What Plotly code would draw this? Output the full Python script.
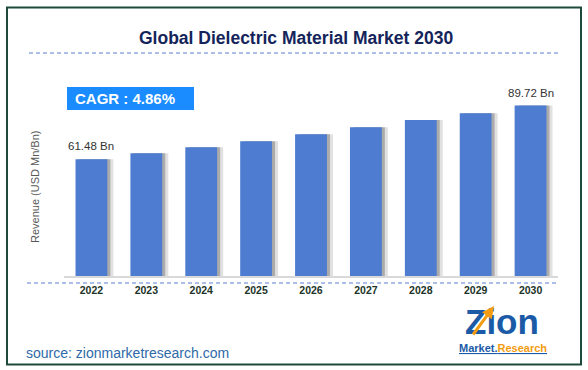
import plotly.graph_objects as go

# ---- data ----
years = ["2022", "2023", "2024", "2025", "2026", "2027", "2028", "2029", "2030"]
revenue = [61.48, 64.6, 67.7, 70.9, 74.6, 78.3, 82.1, 85.6, 89.72]
bar_labels = ["61.48 Bn", "", "", "", "", "", "", "", "89.72 Bn"]
chart_title = "Global Dielectric Material Market 2030"
cagr_text = "CAGR : 4.86%"
y_title = "Revenue (USD Mn/Bn)"
source_text = "source: zionmarketresearch.com"

# ---- layout geometry ----
W, H = 588, 370
L, R, T, B = 64, 30, 90, 94
PW, PH = W - L - R, H - T - B
PX_PER_UNIT = 1.9


def px(x):
    return (x - L) / PW


def py(y):
    return (H - B - y) / PH


FONT = "Liberation Sans, Arial, sans-serif"
BAR_W = 0.58
pos = list(range(len(years)))

fig = go.Figure()
# soft shadows to the right of each bar
fig.add_trace(go.Bar(x=pos, y=revenue, width=BAR_W, offset=-BAR_W / 2 + 0.11,
                     marker=dict(color="rgba(120,120,120,0.22)", line=dict(width=0)),
                     hoverinfo="skip", showlegend=False))
fig.add_trace(go.Bar(x=pos, y=revenue, width=BAR_W, offset=-BAR_W / 2 + 0.055,
                     marker=dict(color="rgba(90,90,90,0.40)", line=dict(width=0)),
                     hoverinfo="skip", showlegend=False))
# main bars
fig.add_trace(go.Bar(x=pos, y=revenue, width=BAR_W, offset=-BAR_W / 2,
                     marker=dict(color="#4d7cd1", line=dict(width=0)),
                     showlegend=False))

annotations = []
for i, (v, lab) in enumerate(zip(revenue, bar_labels)):
    if lab:
        annotations.append(dict(x=i, y=v, xref="x", yref="y", text=lab, showarrow=False,
                                yanchor="bottom", yshift=5,
                                font=dict(family=FONT, size=11.5, color="#333333")))

annotations += [
    dict(x=px(296), y=py(38), xref="paper", yref="paper", text="<b>" + chart_title + "</b>",
         showarrow=False, xanchor="center", yanchor="middle",
         font=dict(family=FONT, size=17.5, color="#14245a")),
    dict(x=px(73), y=py(98.5), xref="paper", yref="paper", text="<b>" + cagr_text + "</b>",
         showarrow=False, xanchor="left", yanchor="middle",
         font=dict(family=FONT, size=15, color="#ffffff")),
    dict(x=px(35), y=py(187), xref="paper", yref="paper", text=y_title, textangle=-90,
         showarrow=False, xanchor="center", yanchor="middle",
         font=dict(family=FONT, size=11, color="#595959")),
    dict(x=px(24), y=py(352.5), xref="paper", yref="paper", text=source_text,
         showarrow=False, xanchor="left", yanchor="middle",
         font=dict(family=FONT, size=14, color="#2e6aa8")),
    # logo
    dict(x=px(502), y=py(321), xref="paper", yref="paper", text="<b>Zion</b>",
         showarrow=False, xanchor="center", yanchor="middle",
         font=dict(family=FONT, size=35, color="#1b5aa6")),
    dict(x=px(494), y=py(306), xref="paper", yref="paper", text="", showarrow=True,
         ax=-22, ay=30, arrowhead=2, arrowsize=0.8, arrowwidth=3, arrowcolor="#f39c12"),
    dict(x=px(503), y=py(348), xref="paper", yref="paper",
         text="<b><u><span style='color:#1b5aa6'>Market.</span>"
              "<span style='color:#f39c12'>Research</span></u></b>",
         showarrow=False, xanchor="center", yanchor="middle",
         font=dict(family=FONT, size=11, color="#1b5aa6")),
]

shapes = [
    dict(type="rect", xref="paper", yref="paper", x0=px(7), x1=px(581), y0=py(364.5), y1=py(7.5),
         line=dict(color="#1d4a3a", width=2), fillcolor="rgba(0,0,0,0)", layer="above"),
    dict(type="line", xref="paper", yref="paper", x0=px(29), x1=px(560), y0=py(53), y1=py(53),
         line=dict(color="#5b7fcf", width=1, dash="4px,3px")),
    dict(type="line", xref="paper", yref="paper", x0=px(27), x1=px(557), y0=py(283), y1=py(283),
         line=dict(color="#5b7fcf", width=1, dash="4px,3px")),
    dict(type="rect", xref="paper", yref="paper", x0=px(67), x1=px(194), y0=py(110), y1=py(87),
         line=dict(width=0), fillcolor="#1a8cff", layer="below"),
]

fig.update_layout(
    width=W, height=H,
    margin=dict(l=L, r=R, t=T, b=B, pad=0),
    paper_bgcolor="#ffffff", plot_bgcolor="#ffffff",
    barmode="overlay",
    showlegend=False,
    annotations=annotations,
    shapes=shapes,
    xaxis=dict(range=[-0.5, len(years) - 0.5], showline=True, linecolor="#d9d9d9", linewidth=1.5,
               showgrid=False, zeroline=False, ticks="", ticklabelstandoff=4,
               tickfont=dict(family=FONT, size=10.5, color="#1c3328"),
               tickvals=pos, ticktext=["<b>" + y + "</b>" for y in years],
               fixedrange=True),
    yaxis=dict(visible=False, range=[0, PH / PX_PER_UNIT], fixedrange=True),
    font=dict(family=FONT),
)

fig.write_html("out.html", config={"displayModeBar": False},
               post_script="document.body.style.margin='0px';")
